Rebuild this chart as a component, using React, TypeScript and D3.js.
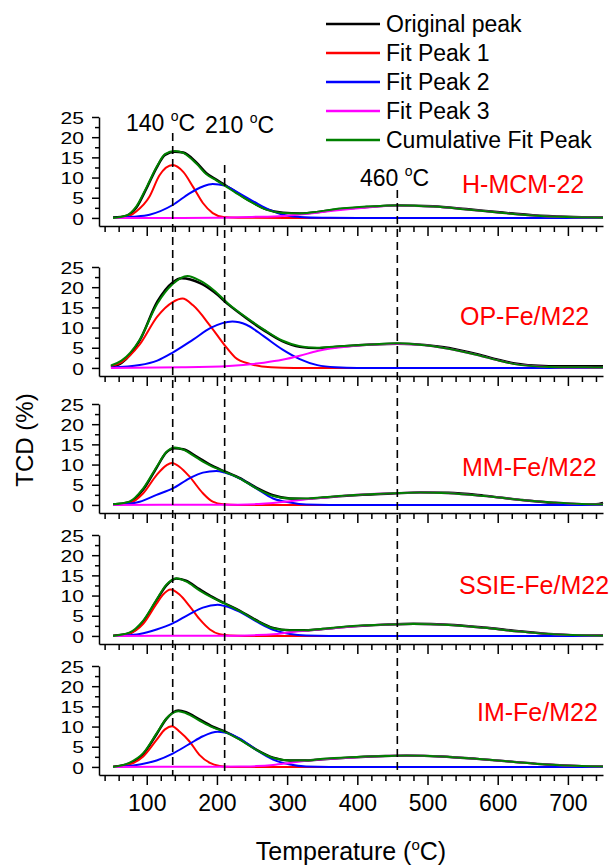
import React, { useEffect, useRef } from "react";
import * as d3 from "d3";

type Pt = [number, number];

// [temperature (°C), TCD (%)]

// H-MCM-22
const hmcmOriginal: Pt[] = [[52, 0.1], [71, 0.5], [85, 2.5], [100, 7.4], [114, 12.4], [126, 15.6], [140, 16.4], [152, 16.2], [171, 13.7], [185, 11.1], [199, 9.5], [211, 8.2], [228, 6.3], [247, 4.2], [271, 2.1], [294, 1.3], [318, 1.1], [342, 1.4], [365, 2.0], [413, 2.7], [457, 3.1], [508, 2.9], [555, 2.2], [603, 1.4], [650, 0.7], [698, 0.3], [750, 0.1]];
const hmcmPeak1: Pt[] = [[52, 0], [70, 0.2], [85, 1.6], [104, 5.3], [118, 10.5], [137, 13.1], [152, 11.4], [166, 7.7], [180, 3.7], [194, 1.2], [209, 0.25], [230, 0.05], [300, 0], [750, 0]];
const hmcmPeak2: Pt[] = [[52, 0], [80, 0.3], [104, 0.8], [137, 3.2], [161, 6.1], [180, 7.8], [194, 8.4], [211, 8.0], [232, 6.1], [256, 3.7], [275, 2.0], [294, 0.8], [318, 0.25], [350, 0.03], [400, 0], [750, 0]];
const hmcmPeak3: Pt[] = [[52, 0], [150, 0], [200, 0.05], [250, 0.25], [294, 0.5], [318, 0.85], [342, 1.3], [365, 1.8], [413, 2.6], [457, 3.0], [508, 2.8], [555, 2.1], [603, 1.3], [650, 0.6], [698, 0.2], [750, 0.05]];
const hmcmCumulative: Pt[] = [[52, 0], [71, 0.6], [85, 2.8], [100, 7.7], [114, 12.6], [126, 15.8], [140, 16.6], [152, 16.1], [171, 13.4], [185, 10.8], [199, 9.3], [211, 8.0], [228, 6.1], [247, 4.1], [271, 2.0], [294, 1.2], [318, 1.1], [342, 1.5], [365, 2.1], [413, 2.8], [457, 3.1], [508, 2.8], [555, 2.1], [603, 1.3], [650, 0.6], [698, 0.2], [750, 0.05]];

// OP-Fe/M22
const opOriginal: Pt[] = [[49, 0.3], [64, 1.2], [90, 6.8], [115, 16.4], [137, 21.2], [150, 22.2], [176, 21.0], [196, 18.8], [217, 15.6], [242, 12.3], [267, 9.3], [293, 6.6], [318, 5.2], [343, 4.9], [369, 5.2], [420, 5.8], [457, 6.0], [496, 5.7], [521, 5.2], [571, 3.4], [602, 2.0], [622, 1.2], [673, 0.4], [724, 0.4], [750, 0.4]];
const opPeak1: Pt[] = [[49, 0.4], [64, 1.4], [90, 5.8], [115, 12.7], [137, 16.3], [151, 17.2], [166, 15.5], [191, 10.3], [212, 5.4], [226, 2.6], [247, 1.0], [277, 0.15], [310, 0], [750, 0]];
const opPeak2: Pt[] = [[49, 0.1], [90, 0.7], [115, 1.8], [137, 3.8], [166, 7.0], [191, 9.9], [222, 11.5], [242, 10.7], [267, 7.8], [293, 4.6], [318, 2.2], [343, 0.7], [369, 0.15], [400, 0], [750, 0]];
const opPeak3: Pt[] = [[49, 0], [150, 0.15], [217, 0.5], [267, 1.3], [293, 2.0], [318, 3.0], [343, 4.2], [394, 5.4], [457, 6.0], [496, 5.6], [521, 5.0], [571, 3.2], [602, 1.8], [622, 1.0], [673, 0.25], [724, 0.08], [750, 0.05]];
const opCumulative: Pt[] = [[49, 0.6], [64, 1.8], [90, 7.0], [115, 15.9], [137, 20.8], [158, 22.8], [176, 21.6], [196, 19.2], [217, 15.8], [242, 12.5], [267, 9.5], [293, 6.8], [318, 5.4], [343, 5.0], [369, 5.3], [420, 5.8], [457, 6.1], [496, 5.6], [521, 5.0], [571, 3.2], [602, 1.8], [622, 1.0], [673, 0.25], [724, 0.15], [750, 0.1]];

// MM-Fe/M22
const mmOriginal: Pt[] = [[52, 0.1], [75, 0.6], [95, 3.8], [114, 9.2], [128, 13.0], [140, 14.0], [152, 13.8], [171, 12.0], [190, 10.0], [211, 8.3], [232, 6.7], [256, 4.3], [280, 2.4], [304, 1.6], [327, 1.5], [351, 1.8], [389, 2.3], [450, 2.8], [490, 3.1], [530, 3.0], [580, 2.3], [630, 1.3], [680, 0.5], [720, 0.2], [740, 0.2], [750, 0.5]];
const mmPeak1: Pt[] = [[52, 0], [75, 0.4], [95, 2.9], [114, 7.4], [128, 9.8], [136, 10.4], [147, 9.4], [161, 7.0], [180, 2.9], [194, 0.8], [209, 0.15], [230, 0], [750, 0]];
const mmPeak2: Pt[] = [[52, 0], [66, 0.15], [90, 0.8], [114, 2.5], [137, 4.1], [161, 6.6], [180, 8.0], [199, 8.4], [211, 8.0], [232, 6.6], [256, 4.1], [280, 1.6], [304, 0.6], [327, 0.1], [360, 0], [750, 0]];
const mmPeak3: Pt[] = [[52, 0], [200, 0.05], [256, 0.2], [280, 0.5], [304, 0.9], [327, 1.4], [351, 1.8], [389, 2.4], [450, 2.9], [490, 3.1], [530, 2.9], [580, 2.2], [630, 1.3], [680, 0.6], [720, 0.2], [750, 0.1]];
const mmCumulative: Pt[] = [[52, 0.15], [75, 0.8], [95, 4.1], [114, 9.4], [128, 13.1], [140, 14.2], [152, 13.7], [171, 11.7], [190, 9.8], [211, 8.2], [232, 6.6], [256, 4.1], [280, 2.2], [304, 1.6], [327, 1.6], [351, 1.9], [389, 2.4], [450, 2.9], [490, 3.1], [530, 2.9], [580, 2.2], [630, 1.3], [680, 0.6], [720, 0.2], [750, 0.1]];

// SSIE-Fe/M22
const ssieOriginal: Pt[] = [[52, 0.05], [75, 0.6], [95, 3.6], [114, 8.8], [128, 12.5], [142, 14.2], [156, 13.7], [175, 11.6], [194, 9.6], [211, 8.1], [232, 6.3], [256, 3.9], [280, 2.0], [304, 1.4], [327, 1.4], [351, 1.7], [389, 2.3], [440, 2.8], [480, 3.0], [530, 2.8], [580, 2.1], [630, 1.2], [680, 0.4], [720, 0.1], [750, 0.1]];
const ssiePeak1: Pt[] = [[52, 0], [75, 0.6], [95, 3.0], [114, 8.0], [123, 10.2], [134, 11.5], [147, 10.2], [161, 7.4], [175, 4.2], [190, 1.6], [204, 0.4], [218, 0.1], [240, 0], [750, 0]];
const ssiePeak2: Pt[] = [[52, 0], [66, 0.1], [90, 0.5], [114, 1.6], [137, 3.1], [161, 5.4], [180, 7.0], [201, 7.7], [211, 7.4], [232, 6.0], [256, 3.6], [280, 1.5], [304, 0.5], [327, 0.1], [360, 0], [750, 0]];
const ssiePeak3: Pt[] = [[52, 0], [200, 0.05], [256, 0.2], [280, 0.4], [304, 0.9], [327, 1.3], [351, 1.7], [389, 2.3], [440, 2.8], [480, 2.95], [530, 2.7], [580, 2.0], [630, 1.1], [680, 0.4], [720, 0.15], [750, 0.05]];
const ssieCumulative: Pt[] = [[52, 0], [75, 0.8], [95, 3.8], [114, 9.0], [128, 12.7], [142, 14.3], [156, 13.5], [175, 11.3], [194, 9.4], [211, 8.0], [232, 6.2], [256, 3.8], [280, 1.9], [304, 1.4], [327, 1.4], [351, 1.8], [389, 2.4], [440, 2.8], [480, 2.95], [530, 2.7], [580, 2.0], [630, 1.1], [680, 0.4], [720, 0.15], [750, 0.05]];

// IM-Fe/M22
const imOriginal: Pt[] = [[52, 0.05], [75, 0.8], [95, 3.2], [114, 8.1], [128, 11.9], [145, 14.0], [156, 13.6], [175, 11.8], [194, 10.0], [211, 8.8], [232, 6.9], [256, 4.3], [280, 2.3], [304, 1.6], [327, 1.6], [351, 1.9], [389, 2.3], [440, 2.7], [470, 2.8], [520, 2.6], [570, 2.0], [620, 1.3], [670, 0.6], [720, 0.2], [750, 0.1]];
const imPeak1: Pt[] = [[52, 0], [75, 0.6], [95, 2.6], [114, 6.7], [126, 9.3], [136, 10.1], [147, 8.7], [161, 6.3], [175, 3.0], [190, 1.0], [204, 0.25], [220, 0], [750, 0]];
const imPeak2: Pt[] = [[52, 0], [66, 0.1], [90, 0.6], [114, 1.6], [137, 3.3], [161, 5.7], [180, 7.6], [201, 8.7], [211, 8.5], [232, 7.1], [256, 4.2], [280, 1.8], [304, 0.6], [327, 0.1], [360, 0], [750, 0]];
const imPeak3: Pt[] = [[52, 0], [200, 0.05], [232, 0.1], [256, 0.2], [280, 0.5], [304, 1.0], [327, 1.5], [351, 1.9], [389, 2.3], [440, 2.7], [470, 2.8], [520, 2.6], [570, 2.0], [620, 1.3], [670, 0.6], [720, 0.2], [750, 0.1]];
const imCumulative: Pt[] = [[52, 0], [75, 1.0], [95, 3.4], [114, 8.3], [128, 12.0], [145, 13.8], [156, 13.3], [175, 11.5], [194, 9.8], [211, 8.7], [232, 6.8], [256, 4.2], [280, 2.2], [304, 1.6], [327, 1.6], [351, 2.0], [389, 2.4], [440, 2.7], [470, 2.8], [520, 2.6], [570, 2.0], [620, 1.3], [670, 0.6], [720, 0.2], [750, 0.1]];

const sampleNames = ["H-MCM-22", "OP-Fe/M22", "MM-Fe/M22", "SSIE-Fe/M22", "IM-Fe/M22"];
const seriesNames = ["Original peak", "Fit Peak 1", "Fit Peak 2", "Fit Peak 3", "Cumulative Fit Peak"];
const seriesColors = ["#000000", "#ff0000", "#0000ff", "#ff00ff", "#008000"];
const markerTemps = [137, 211, 457];
const markerLabels = ["140", "210", "460"];
const yTicks = [0, 5, 10, 15, 20, 25];
const yMinorTicks = [2.5, 7.5, 12.5, 17.5, 22.5];
const xTicks = [100, 200, 300, 400, 500, 600, 700];
const xMinorTicks = d3.range(40, 741, 20).filter((t) => t % 100 !== 0);

const panels = [
  [hmcmOriginal, hmcmPeak1, hmcmPeak2, hmcmPeak3, hmcmCumulative],
  [opOriginal, opPeak1, opPeak2, opPeak3, opCumulative],
  [mmOriginal, mmPeak1, mmPeak2, mmPeak3, mmCumulative],
  [ssieOriginal, ssiePeak1, ssiePeak2, ssiePeak3, ssieCumulative],
  [imOriginal, imPeak1, imPeak2, imPeak3, imCumulative],
];

// layout
const W = 612;
const H = 868;
const plotLeft = 99;
const plotRight = 603;
const panelTops = [117, 267, 404, 535, 666];
const panelH = 109;
const nameX = [462, 460, 462, 459, 477];
const nameY = [193, 325, 476, 594, 721];
const markerTop = [133, 165, 190];
const markerTextPos = [
  [126, 131],
  [205, 133],
  [360, 186],
];
const FONT = "'Liberation Sans', Arial, sans-serif";

const App = () => {
  const ref = useRef<SVGSVGElement>(null);

  useEffect(() => {
    const svg = d3.select(ref.current);
    svg.selectAll("*").remove();
    svg.attr("font-family", FONT);

    const x = d3.scaleLinear().domain([32, 750]).range([plotLeft, plotRight]);
    const bottom = panelTops[panelTops.length - 1] + panelH;

    panels.forEach((series, pi) => {
      const top = panelTops[pi];
      const y = d3.scaleLinear().domain([-2, 25]).range([top + panelH, top]);
      const g = svg.append("g");

      const line = d3
        .line<Pt>()
        .x((d) => x(d[0]))
        .y((d) => y(d[1]))
        .curve(d3.curveMonotoneX);

      series.forEach((s, si) => {
        g.append("path")
          .attr("d", line(s))
          .attr("fill", "none")
          .attr("stroke", seriesColors[si])
          .attr("stroke-width", si === 0 ? 2.4 : 2)
          .attr("stroke-linejoin", "round");
      });

      // y axis, major + minor
      const yMinor = g
        .append("g")
        .attr("transform", `translate(${plotLeft},0)`)
        .call(d3.axisLeft(y).tickValues(yMinorTicks).tickSize(4).tickSizeOuter(0).tickFormat(() => ""));
      yMinor.select(".domain").remove();
      const yAx = g
        .append("g")
        .attr("transform", `translate(${plotLeft},0)`)
        .call(d3.axisLeft(y).tickValues(yTicks).tickSize(7).tickSizeOuter(0));
      yAx.selectAll("text")
        .attr("font-family", FONT)
        .attr("font-size", 17)
        .attr("fill", "#000")
        .attr("x", -15 / 1.24)
        .attr("dy", "0.36em")
        .attr("transform", "scale(1.24,1)");

      // x axis, major + minor
      const xMinor = g
        .append("g")
        .attr("transform", `translate(0,${top + panelH})`)
        .call(d3.axisBottom(x).tickValues(xMinorTicks).tickSize(6).tickSizeOuter(0).tickFormat(() => ""));
      xMinor.select(".domain").remove();
      const last = pi === panels.length - 1;
      const xAx = g
        .append("g")
        .attr("transform", `translate(0,${top + panelH})`)
        .call(
          d3
            .axisBottom(x)
            .tickValues(xTicks)
            .tickSize(10)
            .tickSizeOuter(0)
            .tickPadding(10)
            .tickFormat((d) => (last ? String(d) : "")),
        );
      xAx.selectAll("text").attr("font-family", FONT).attr("font-size", 23).attr("fill", "#000");

      g.selectAll(".domain, .tick line").attr("stroke", "#000").attr("stroke-width", 1.5);

      g.append("text")
        .attr("x", nameX[pi])
        .attr("y", nameY[pi])
        .attr("font-size", 25)
        .attr("fill", "#ff0000")
        .text(sampleNames[pi]);
    });

    // dashed markers
    markerTemps.forEach((t, i) => {
      svg.append("line")
        .attr("x1", x(t))
        .attr("x2", x(t))
        .attr("y1", markerTop[i])
        .attr("y2", bottom)
        .attr("stroke", "#000")
        .attr("stroke-width", 1.6)
        .attr("stroke-dasharray", "8,5");

      const txt = svg.append("text")
        .attr("x", markerTextPos[i][0])
        .attr("y", markerTextPos[i][1])
        .attr("font-size", 23)
        .style("white-space", "pre");
      txt.append("tspan").text(markerLabels[i] + " ");
      txt.append("tspan").attr("font-size", 14).attr("dy", -10).text("o");
      txt.append("tspan").attr("dy", 10).text("C");
    });

    // legend
    seriesNames.forEach((name, i) => {
      const ly = 24 + i * 29;
      svg.append("line")
        .attr("x1", 326)
        .attr("x2", 380)
        .attr("y1", ly)
        .attr("y2", ly)
        .attr("stroke", seriesColors[i])
        .attr("stroke-width", 2.5);
      svg.append("text")
        .attr("x", 386)
        .attr("y", ly)
        .attr("dy", "0.35em")
        .attr("font-size", 23)
        .text(name);
    });

    // axis titles
    const xt = svg.append("text")
      .attr("x", 351)
      .attr("y", 860)
      .attr("text-anchor", "middle")
      .attr("font-size", 25)
      .style("white-space", "pre");
    xt.append("tspan").text("Temperature (");
    xt.append("tspan").attr("font-size", 15).attr("dy", -10).text("o");
    xt.append("tspan").attr("dy", 10).text("C)");

    svg.append("text")
      .attr("transform", "translate(33,440) rotate(-90)")
      .attr("text-anchor", "middle")
      .attr("font-size", 24)
      .text("TCD (%)");
  }, []);

  return (
    <svg
      ref={ref}
      width={W}
      height={H}
      style={{ position: "absolute", left: 0, top: 0, background: "#fff" }}
    />
  );
};

export default App;
